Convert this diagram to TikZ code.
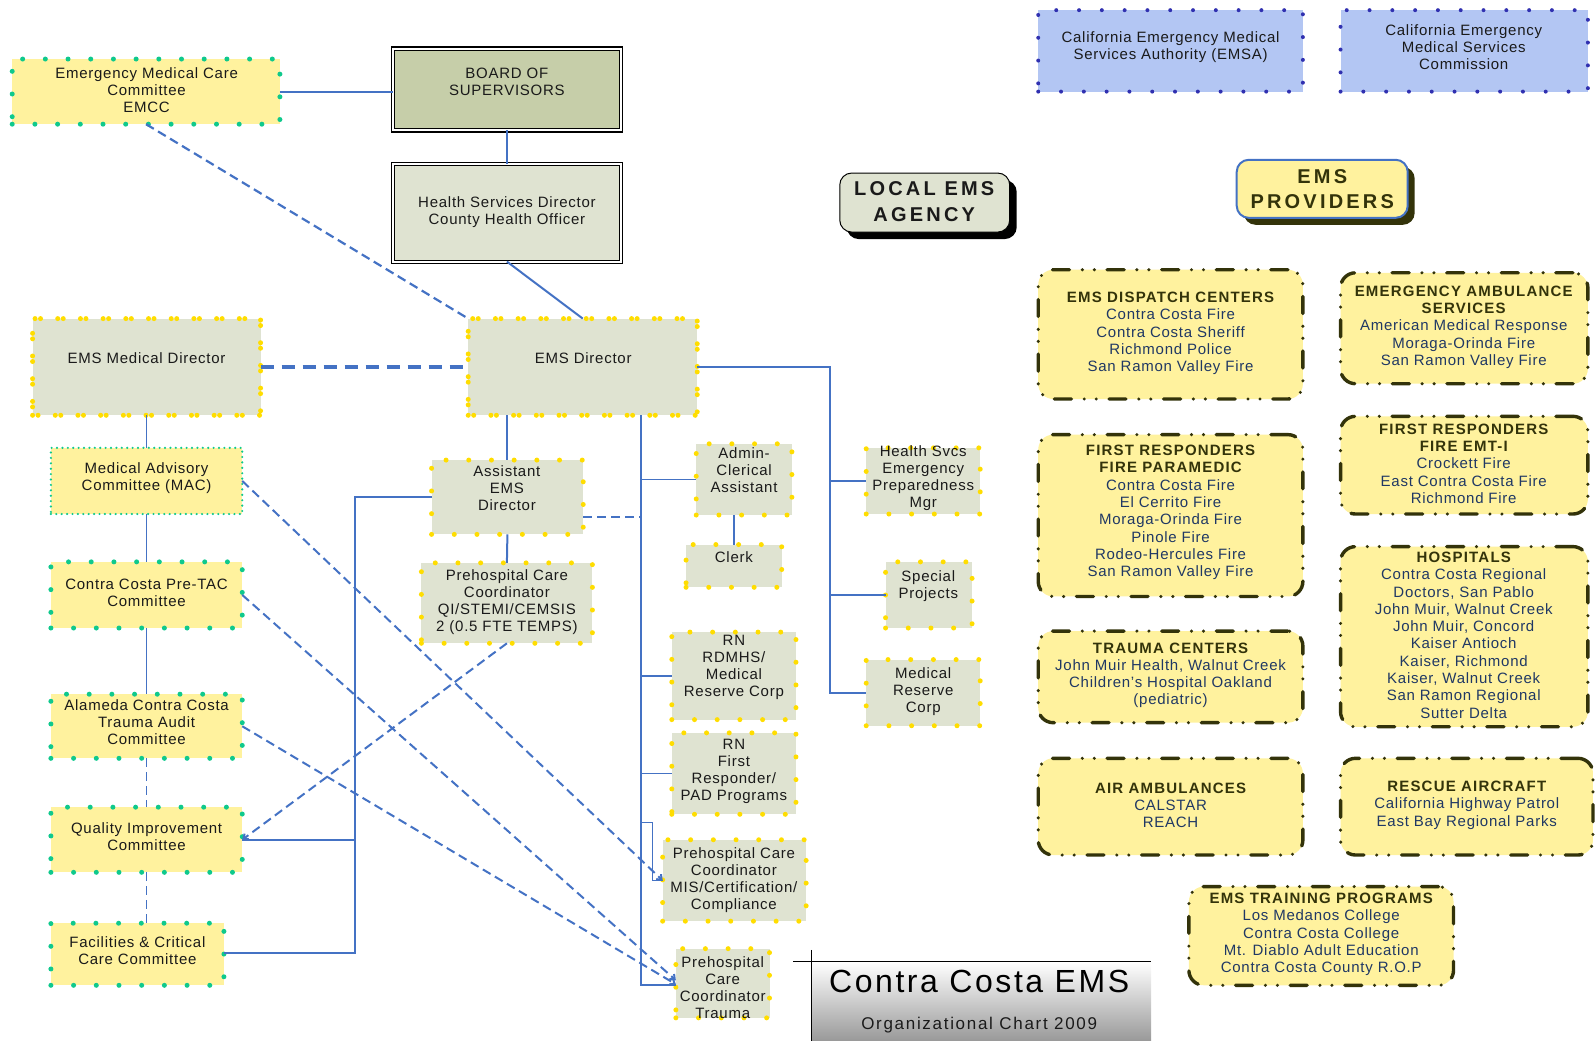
\documentclass[tikz,border=0pt]{standalone}
\usepackage{fontspec}
\setmainfont{Liberation Sans}[LetterSpace=5]
\newfontfamily\ttlfont{Liberation Sans}[LetterSpace=8]
\newfontfamily\bigfont{Liberation Sans}[LetterSpace=16]
\newfontfamily\headfont{Liberation Sans}[LetterSpace=8]
\newfontfamily\subfont{Liberation Sans}[LetterSpace=10]
\usetikzlibrary{fit,shadows,arrows.meta}
\definecolor{cGry}{HTML}{DFE3D1}
\definecolor{cOlv}{HTML}{C6CEA9}
\definecolor{cYlw}{HTML}{FFF29E}
\definecolor{cPrv}{HTML}{B3C6F3}
\definecolor{cGold}{HTML}{FFDD00}
\definecolor{cTeal}{HTML}{0FC98C}
\definecolor{cDkb}{HTML}{3030B0}
\definecolor{cLine}{HTML}{4472C4}
\definecolor{cOlvd}{HTML}{33330A}
\definecolor{cNavy}{HTML}{203864}
\definecolor{cTxt}{HTML}{1A1A1A}
\newcommand\ptitle[1]{{\color{cOlvd}\bfseries\headfont #1}}
\begin{document}
\begin{tikzpicture}[x=1.018pt, y=-1.018pt,
  bx/.style={inner sep=0pt, outer sep=0pt},
  gbox/.style={bx, fill=cGry, draw=cGold, line width=5pt, line cap=round, dash pattern=on 0pt off 22.7pt},
  gboxd/.style={gbox, dash pattern=on 0pt off 5.5pt on 0pt off 17.2pt},
  ybox/.style={bx, fill=cYlw, draw=cTeal, line width=5pt, line cap=round, dash pattern=on 0pt off 22.7pt},
  fbox/.style={bx, fill=cYlw, draw=cTeal, line width=2.4pt, line cap=round, dash pattern=on 0pt off 5.4pt},
  sbox/.style={bx, fill=cPrv, draw=cDkb, line width=4pt, line cap=round, dash pattern=on 0pt off 22.8pt},
  pbox/.style={bx, fill=cYlw, draw=cOlvd, line width=3.4pt, rounded corners=15pt, line cap=round,
    dash pattern=on 17pt off 12.8pt on 0pt off 12pt on 0pt off 12.8pt},
  txt/.style={align=center, inner sep=0pt, text=cTxt, font=\fontsize{15}{17}\selectfont},
  ptxt/.style={align=center, inner sep=0pt, text=cNavy, font=\fontsize{15}{17.3}\selectfont},
  conn/.style={draw=cLine, line width=2pt},
  thinc/.style={draw=cLine, line width=1.5pt},
  dconn/.style={draw=cLine, line width=2pt, dash pattern=on 9pt off 5pt},
  barbend/.style={-{Straight Barb[length=4pt,width=7pt]}}
]
\useasboundingbox (0,0) rectangle (1567,1022.6);

% ---- state boxes
\node[sbox, fit={(1020,10)(1280,90)}] (emsa) {};
\node[txt] (emsa-t) at (1150,46) {California Emergency Medical\\Services Authority (EMSA)};
\node[sbox, fit={(1317,10)(1560,90)}] (comm) {};
\node[txt] (comm-t) at (1438,46.5) {California Emergency\\Medical Services\\Commission};

% ---- headings
\node[bx, fit={(825,170)(992,228)}, fill=cGry, draw=black, line width=1pt, rounded corners=12pt,
  general shadow={fill=black, shadow xshift=7pt, shadow yshift=-7pt}] (lea) {};
\node[txt, font=\bigfont\bfseries\fontsize{20}{25.5}\selectfont] (lea-t) at (908,198) {LOCAL EMS\\AGENCY};
\node[bx, fit={(1215,157)(1383,214)}, fill=cYlw, draw=cLine, line width=2pt, rounded corners=12pt,
  general shadow={fill=cOlvd, shadow xshift=7pt, shadow yshift=-7pt}] (emsp) {};
\node[txt, text=cOlvd, font=\bigfont\bfseries\fontsize{20}{25.5}\selectfont] (emsp-t) at (1299,186) {EMS\\PROVIDERS};

% ---- county boxes
\node[ybox, fit={(12,58)(275,122)}] (emcc) {};
\node[txt] (emcc-t) at (144,88.5) {Emergency Medical Care\\Committee\\EMCC};
\node[bx, fit={(386,48)(610,128)}, fill=cOlv, draw=black, line width=1.5pt, double=white, double distance=1.8pt] (board) {};
\node[txt] (board-t) at (498,80) {BOARD OF\\SUPERVISORS};
\node[bx, fit={(386,161)(610,257)}, fill=cGry, draw=black, line width=1pt, double=white, double distance=2pt] (hsd) {};
\node[txt] (hsd-t) at (498,208) {Health Services Director\\County Health Officer};

\node[gboxd, fit={(32,313)(256,408)}] (meddir) {};
\node[txt] (meddir-t) at (144,352) {EMS Medical Director};
\node[gboxd, fit={(460,313)(685,408)}] (emsdir) {};
\node[txt] (emsdir-t) at (573,352) {EMS Director};

\node[fbox, fit={(50,440)(238,505)}] (mac) {};
\node[txt] (mac-t) at (144,470) {Medical Advisory\\Committee (MAC)};
\node[ybox, fit={(50,552)(238,617)}] (pretac) {};
\node[txt] (pretac-t) at (144,582) {Contra Costa Pre-TAC\\Committee};
\node[ybox, fit={(50,682)(238,745)}] (alam) {};
\node[txt] (alam-t) at (144,709.5) {Alameda Contra Costa\\Trauma Audit\\Committee};
\node[ybox, fit={(50,793)(238,857)}] (qi) {};
\node[txt] (qi-t) at (144,821.5) {Quality Improvement\\Committee};
\node[ybox, fit={(50,907)(220,968)}] (fac) {};
\node[txt] (fac-t) at (135,933.5) {Facilities \& Critical\\Care Committee};

\node[gbox, fit={(424,452)(573,525)}] (asst) {};
\node[txt] (asst-t) at (498,479.5) {Assistant\\EMS\\Director};
\node[gbox, fit={(414,553)(582,632)}] (pqi) {};
\node[txt] (pqi-t) at (498,592) {Prehospital Care\\Coordinator\\QI/STEMI/CEMSIS\\2 (0.5 FTE TEMPS)};
\node[gbox, fit={(684,436)(778,506)}] (admin) {};
\node[txt] (admin-t) at (731,462) {Admin-\\Clerical\\Assistant};
\node[gbox, fit={(674,535)(768,577)}] (clerk) {};
\node[txt] (clerk-t) at (721,547) {Clerk};
\node[gbox, fit={(660,621)(782,707)}] (rdmhs) {};
\node[txt] (rdmhs-t) at (721,655.5) {RN\\RDMHS/\\Medical\\Reserve Corp};
\node[gbox, fit={(660,720)(782,800)}] (rnfr) {};
\node[txt] (rnfr-t) at (721,757.5) {RN\\First\\Responder/\\PAD Programs};
\node[gbox, fit={(651,825)(792,905)}] (mis) {};
\node[txt] (mis-t) at (721,864.5) {Prehospital Care\\Coordinator\\MIS/Certification/\\Compliance};
\node[gbox, fit={(664,932)(756,1000)}] (tc) {};
\node[txt] (tc-t) at (710,970) {Prehospital\\Care\\Coordinator\\Trauma};
\node[gbox, fit={(851,440)(963,505)}] (hsep) {};
\node[txt] (hsep-t) at (907,470) {Health Svcs\\Emergency\\Preparedness\\Mgr};
\node[gbox, fit={(870,552)(955,617)}] (sp) {};
\node[txt] (sp-t) at (912,575.5) {Special\\Projects};
\node[gbox, fit={(851,648)(963,713)}] (mrc) {};
\node[txt] (mrc-t) at (907,679.5) {Medical\\Reserve\\Corp};

% ---- provider boxes
\node[pbox, fit={(1020,265)(1280,392)}] (disp) {};
\node[ptxt] (disp-t) at (1150,327.5) {\ptitle{EMS DISPATCH CENTERS}\\Contra Costa Fire\\Contra Costa Sheriff\\Richmond Police\\San Ramon Valley Fire};
\node[pbox, fit={(1317,268)(1560,377)}] (amb) {};
\node[ptxt] (amb-t) at (1438,321.5) {\ptitle{EMERGENCY AMBULANCE}\\\ptitle{SERVICES}\\American Medical Response\\Moraga-Orinda Fire\\San Ramon Valley Fire};
\node[pbox, fit={(1020,427)(1280,586)}] (frp) {};
\node[ptxt] (frp-t) at (1150,503.5) {\ptitle{FIRST RESPONDERS}\\\ptitle{FIRE PARAMEDIC}\\Contra Costa Fire\\El Cerrito Fire\\Moraga-Orinda Fire\\Pinole Fire\\Rodeo-Hercules Fire\\San Ramon Valley Fire};
\node[pbox, fit={(1317,409)(1560,505)}] (emt) {};
\node[ptxt] (emt-t) at (1438,455.5) {\ptitle{FIRST RESPONDERS}\\\ptitle{FIRE EMT-I}\\Crockett Fire\\East Contra Costa Fire\\Richmond Fire};
\node[pbox, fit={(1317,537)(1560,714)}] (hosp) {};
\node[ptxt] (hosp-t) at (1438,624) {\ptitle{HOSPITALS}\\Contra Costa Regional\\Doctors, San Pablo\\John Muir, Walnut Creek\\John Muir, Concord\\Kaiser Antioch\\Kaiser, Richmond\\Kaiser, Walnut Creek\\San Ramon Regional\\Sutter Delta};
\node[pbox, fit={(1020,620)(1280,710)}] (trc) {};
\node[ptxt] (trc-t) at (1150,663.5) {\ptitle{TRAUMA CENTERS}\\John Muir Health, Walnut Creek\\Children's Hospital Oakland\\(pediatric)};
\node[pbox, fit={(1020,745)(1280,840)}] (air) {};
\node[ptxt] (air-t) at (1150,791) {\ptitle{AIR AMBULANCES}\\CALSTAR\\REACH};
\node[pbox, fit={(1317,745)(1565,840)}] (resc) {};
\node[ptxt] (resc-t) at (1441,791) {\ptitle{RESCUE AIRCRAFT}\\California Highway Patrol\\East Bay Regional Parks};
\node[pbox, fit={(1168,871)(1428,968)}] (train) {};
\node[ptxt] (train-t) at (1298,918) {\ptitle{EMS TRAINING PROGRAMS}\\Los Medanos College\\Contra Costa College\\Mt. Diablo Adult Education\\Contra Costa County R.O.P};

% ---- title block
\node[bx, fit={(797,945)(1131,1022.6)}, top color=white, bottom color=black!40] (ttl) {};
\draw[black, line width=1pt] ([xshift=-18pt]ttl.north west) -- (ttl.north east);
\draw[black, line width=1.2pt] ([yshift=12pt]ttl.north west) -- (ttl.south west);
\node[txt, font=\ttlfont\fontsize{32}{36}\selectfont, text=black] (ttl-a) at (962,964) {Contra Costa EMS};
\node[txt, font=\subfont\fontsize{17}{20}\selectfont] (ttl-b) at (962,1007) {Organizational Chart 2009};

% ---- connectors
\coordinate (lb) at (349,936);
\coordinate (mt) at (630,408);
\coordinate (mb) at (630,968);
\coordinate (ad) at (630,508);
\coordinate (rb) at (815,680.5);
\coordinate (mk1) at (641,808);
\coordinate (mk2) at (641,865);

\draw[conn] (emcc.east) -- (emcc.east -| board.west);
\draw[conn] (board.south) -- (hsd.north);
\draw[conn] (hsd.south) -- (emsdir.north);
\draw[dconn, line width=2.2pt] (emcc.south) -- (emsdir.north west);
\draw[draw=cLine, line width=3.2pt, dash pattern=on 13pt off 8pt] (meddir.east) -- (emsdir.west);
\draw[thinc] (meddir.south) -- (mac.north);
\draw[thinc] (mac.south) -- (pretac.north);
\draw[thinc] (pretac.south) -- (alam.north);
\draw[dconn, line width=1.5pt] (alam.south) -- (qi.north);
\draw[dconn, line width=1.5pt] (qi.south) -- (qi.south |- fac.north);

\draw[conn] (asst.north |- emsdir.south) -- (asst.north);
\draw[conn] (asst.south) -- (pqi.north);
\draw[conn] (asst.west) -| (lb) -- (lb -| fac.east);
\draw[conn] (qi.east) -- (qi.east -| lb);
\draw[dconn] (ad -| asst.east) -- (ad);

\draw[conn] (mt) -- (mb) -- (mb -| tc.west);
\draw[thinc] (mt |- admin.west) -- (admin.west);
\draw[thinc] (admin.south -| clerk.north) -- (clerk.north);
\draw[thinc] (mt |- rdmhs.west) -- (rdmhs.west);
\draw[thinc] (mt |- rnfr.west) -- (rnfr.west);
\draw[draw=cLine, line width=1.2pt] (mt |- mk1) -- (mk1) -- (mk2) -- (mis.west);

\draw[conn] (emsdir.east) -| (rb) -- (mrc.west);
\draw[thinc] (rb |- hsep.west) -- (hsep.west);
\draw[thinc] (rb |- sp.west) -- (sp.west);

\draw[dconn, barbend] (mac.east) -- (mis.west);
\draw[dconn, barbend] (pretac.east) -- ([yshift=3pt]tc.west);
\draw[dconn, barbend] (alam.east) -- ([yshift=-1pt]tc.west);
\draw[dconn, barbend] (pqi.south) -- (qi.east);
\end{tikzpicture}
\end{document}
